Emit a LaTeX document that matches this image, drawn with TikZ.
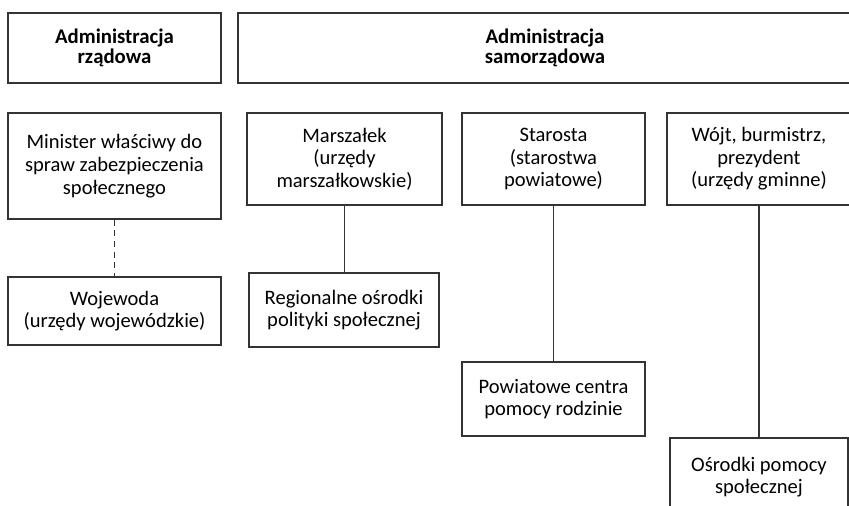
\documentclass[tikz,border=0pt]{standalone}
\usepackage{fontspec}
\setmainfont{Carlito}
\begin{document}
\begin{tikzpicture}[x=0.75pt,y=-0.75pt,
  box/.style={draw=black!80, line width=0.9pt, inner sep=0pt, align=center,
    font=\fontsize{15.4pt}{16.8pt}\selectfont},
  head/.style={box, font=\fontsize{15.6pt}{15.2pt}\selectfont\bfseries},
  sz/.style 2 args={minimum width=#1*0.75pt, minimum height=#2*0.75pt},
  link/.style={draw=black!80, line width=0.9pt},
  dlink/.style={link, dash pattern=on 4.5pt off 3.5pt},
  txt/.style={inner sep=0pt, align=center, font=\fontsize{15.4pt}{16.8pt}\selectfont}]
\clip (0,0) rectangle (849,506);
\fill[white] (0,0) rectangle (849,506);
% headers
\node[head, sz={213}{70}] (gov) at (114.5,48) {Administracja\\rządowa};
\node[head, sz={614}{70}] (self) at (545,48) {Administracja\\samorządowa};
% second row
\node[box, sz={213}{106}, font=\fontsize{15.4pt}{17.5pt}\selectfont] (min) at (114.5,166) {Minister właściwy do\\spraw zabezpieczenia\\społecznego};
\node[box, sz={195}{92}] (mar) at (344.5,159) {Marszałek\\(urzędy\\marszałkowskie)};
\node[box, sz={183}{92}] (sta) at (553.5,159) {Starosta\\(starostwa\\powiatowe)};
\node[box, sz={184}{92}] (wojt) at (759,159) {Wójt, burmistrz,\\prezydent\\(urzędy gminne)};
% lower boxes
\node[box, sz={213}{68}] (woj) at (114.5,311) {Wojewoda\\(urzędy wojewódzkie)};
\node[box, sz={190}{74}] (reg) at (344,310) {Regionalne ośrodki\\polityki społecznej};
\node[box, sz={183}{74}] (pow) at (553.5,399) {Powiatowe centra\\pomocy rodzinie};
\node[box, sz={178}{92}] (osr) at (759,484) {};
\node[txt] (osrt) at (759,477) {Ośrodki pomocy\\społecznej};
% connectors
\draw[dlink] (min.south) -- (min.south |- woj.north);
\draw[link] (mar.south) -- (mar.south |- reg.north);
\draw[link] (sta.south) -- (sta.south |- pow.north);
\draw[link] (wojt.south) -- (wojt.south |- osr.north);
\end{tikzpicture}
\end{document}
